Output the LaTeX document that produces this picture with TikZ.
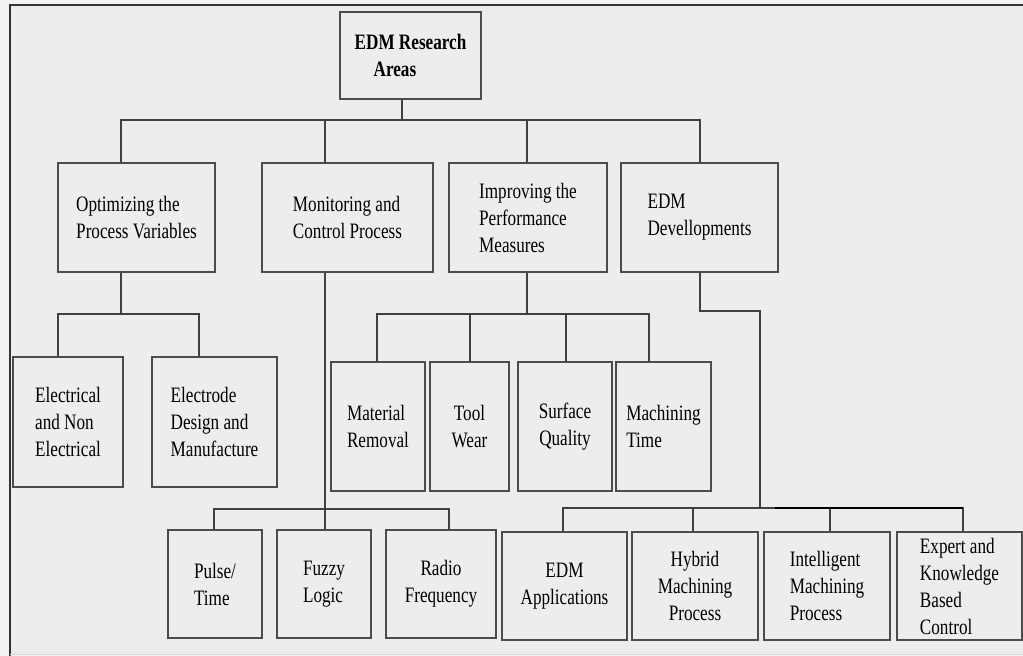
\documentclass[tikz,border=0pt]{standalone}
\usepackage{fontspec}
\setmainfont{Liberation Serif}[FakeStretch=0.78]
\begin{document}
\begin{tikzpicture}[x=1pt,y=-1pt,
  box/.style={draw=black!70, line width=1.5pt, rectangle, inner sep=0pt,
    font=\fontsize{22}{27}\selectfont},
  lbox/.style={box, align=left},
  cbox/.style={box, align=center},
  conn/.style={draw=black!75, line width=1.3pt}]
\useasboundingbox (0,0) rectangle (1023,656);
\fill[black!5] (0,0) rectangle (1023,656);
\fill[black!7] (10,5) rectangle (1023,654);
\draw[black!80, line width=1.5pt] (1023,5) -- (10,5) -- (10,656);
\draw[black!15, line width=1pt] (10,654) -- (1023,654);

% boxes
\node[box, minimum width=141pt, minimum height=87pt, align=left] (root) at (410.5,55.5)
  {\bfseries EDM Research\\\hspace*{19pt}\bfseries Areas};

\node[lbox, minimum width=157pt, minimum height=109pt] (A) at (136.5,217.5) {Optimizing the\\Process Variables};
\node[lbox, minimum width=171pt, minimum height=109pt] (B) at (347.5,217.5) {Monitoring and\\Control Process};
\node[lbox, minimum width=158pt, minimum height=109pt] (C) at (528,217.5) {Improving the\\Performance\\Measures};
\node[lbox, minimum width=157pt, minimum height=109pt] (D) at (699.5,217.5) {EDM\\Devellopments};

\node[lbox, minimum width=110pt, minimum height=130pt] (A1) at (68,422) {Electrical\\and Non\\Electrical};
\node[lbox, minimum width=125pt, minimum height=130pt] (A2) at (214.5,422) {Electrode\\Design and\\Manufacture};

\node[lbox, minimum width=94pt, minimum height=129pt] (C1) at (378,426.5) {Material\\Removal};
\node[cbox, minimum width=79pt, minimum height=129pt] (C2) at (469.5,426.5) {Tool\\Wear};
\node[cbox, minimum width=94pt, minimum height=129pt] (C3) at (565,426.5) {Surface\\Quality};
\node[lbox, minimum width=95pt, minimum height=129pt] (C4) at (663.5,426.5) {Machining\\Time};

\node[lbox, minimum width=94pt, minimum height=108pt] (B1) at (215,584) {Pulse/\\Time};
\node[lbox, minimum width=94pt, minimum height=108pt] (B2) at (324,584) {Fuzzy\\Logic};
\node[cbox, minimum width=110pt, minimum height=108pt] (B3) at (441,584) {Radio\\Frequency};

\node[cbox, minimum width=125pt, minimum height=108pt] (D1) at (564.5,586) {EDM\\Applications};
\node[cbox, minimum width=126pt, minimum height=108pt] (D2) at (695,586) {Hybrid\\Machining\\Process};
\node[lbox, minimum width=126pt, minimum height=108pt] (D3) at (827,586) {Intelligent\\Machining\\Process};
\node[lbox, minimum width=125pt, minimum height=108pt] (D4) at (959.5,586) {Expert and\\Knowledge\\Based\\Control};

% level 1 connectors
\coordinate (j0) at (402,120);
\coordinate (xA) at (121,120);
\coordinate (xB) at (325,120);
\coordinate (xC) at (527,120);
\coordinate (xD) at (700,120);
\draw[conn] (root.south -| j0) -- (j0);
\draw[conn] (A.north -| xA) -- (xA) -- (xD) -- (D.north -| xD);
\draw[conn] (B.north -| xB) -- (xB);
\draw[conn] (C.north -| xC) -- (xC);

% A children
\coordinate (a0) at (121,314);
\coordinate (a1) at (58,314);
\coordinate (a2) at (199,314);
\draw[conn] (A.south -| a0) -- (a0);
\draw[conn] (A1.north -| a1) -- (a1) -- (a2) -- (A2.north -| a2);

% B children
\coordinate (b0) at (325,509);
\coordinate (b1) at (214,509);
\coordinate (b3) at (449,509);
\draw[conn] (B.south -| b0) -- (B2.north -| b0);
\draw[conn] (B1.north -| b1) -- (b1) -- (b3) -- (B3.north -| b3);

% C children
\coordinate (c0) at (527,314);
\coordinate (c1) at (377,314);
\coordinate (c2) at (470,314);
\coordinate (c3) at (566,314);
\coordinate (c4) at (649,314);
\draw[conn] (C.south -| c0) -- (c0);
\draw[conn] (C1.north -| c1) -- (c1) -- (c4) -- (C4.north -| c4);
\draw[conn] (C2.north -| c2) -- (c2);
\draw[conn] (C3.north -| c3) -- (c3);

% D children
\coordinate (d0) at (700,311);
\coordinate (dk) at (760,311);
\coordinate (dj) at (760,508);
\coordinate (d1) at (563,508);
\coordinate (d2) at (693,508);
\coordinate (d3) at (830,508);
\coordinate (d4) at (963,508);
\coordinate (dt) at (775,508);
\draw[conn] (D.south -| d0) -- (d0) -- (dk) -- (dj);
\draw[conn] (D1.north -| d1) -- (d1) -- (d4) -- (D4.north -| d4);
\draw[conn] (D2.north -| d2) -- (d2);
\draw[conn] (D3.north -| d3) -- (d3);
\draw[black, line width=2.6pt] (dt) -- (d4);
\end{tikzpicture}
\end{document}
